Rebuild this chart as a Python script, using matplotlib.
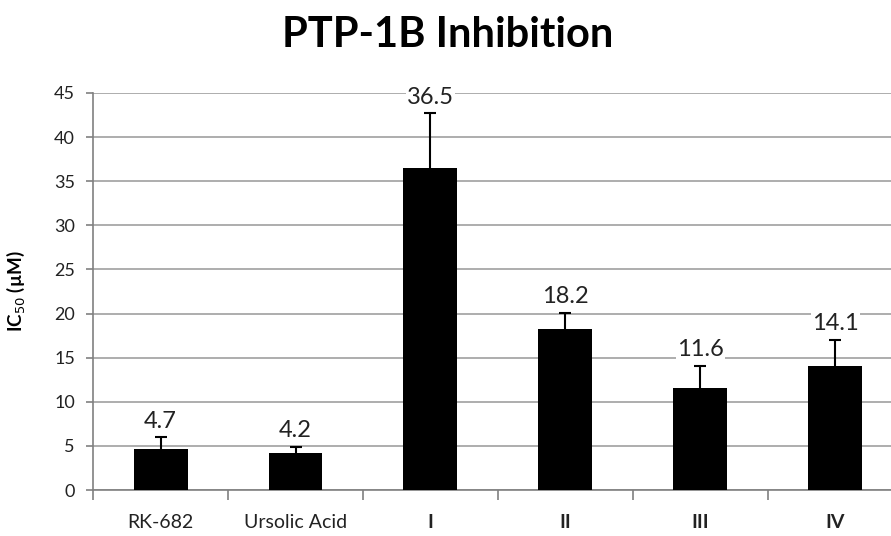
import matplotlib.pyplot as plt
import numpy as np

plt.rcParams['font.family'] = ['Lato', 'DejaVu Sans']

# data
compounds = ["RK-682", "Ursolic Acid", "I", "II", "III", "IV"]
ic50 = [4.7, 4.2, 36.5, 18.2, 11.6, 14.1]
err_up = [1.3, 0.7, 6.2, 1.9, 2.5, 2.9]
bold_labels = [False, False, True, True, True, True]

fig = plt.figure(figsize=(8.91, 5.36), dpi=100)
ax = fig.add_axes([0.1044, 0.0858, 0.909, 0.7407])

x = np.arange(len(compounds))
ax.bar(x, ic50, width=0.4, color="black", zorder=3)
_, caps, _ = ax.errorbar(x, ic50, yerr=[np.zeros(len(ic50)), err_up], fmt="none",
                         ecolor="black", elinewidth=1.5, capsize=4, capthick=1.5, zorder=4)
caps[0].set_visible(False)  # only the upper cap, like Excel's "plus" bars

# value labels above the error bars
for xi, v, e in zip(x, ic50, err_up):
    ax.annotate(f"{v}", (xi, v + e), xytext=(0, 4), textcoords="offset points",
                ha="center", va="bottom", fontsize=17, color="#222222",
                bbox=dict(facecolor="white", edgecolor="none", pad=1.0), zorder=5)

ax.set_ylim(0, 45)
ax.set_xlim(-0.5, len(compounds) - 0.5)
ax.set_yticks(np.arange(0, 46, 5))
ax.yaxis.grid(True, color="#a0a0a0", linewidth=1.2, zorder=0)
ax.tick_params(axis="y", labelsize=13, colors="#808080", labelcolor="#222222",
               length=5, width=1.2, pad=8)

ax.set_xticks(x)
ax.set_xticklabels(compounds)
for lbl, b in zip(ax.get_xticklabels(), bold_labels):
    lbl.set_fontsize(14)
    lbl.set_color("#222222")
    if b:
        lbl.set_fontweight("bold")
ax.tick_params(axis="x", which="major", length=0, pad=17)
ax.set_xticks(np.arange(-0.5, len(compounds)), minor=True)
ax.tick_params(axis="x", which="minor", length=7, width=1.2, colors="#808080")

for side in ["top", "right"]:
    ax.spines[side].set_visible(False)
for side in ["left", "bottom"]:
    ax.spines[side].set_color("#808080")
    ax.spines[side].set_linewidth(1.2)

ax.set_ylabel("IC$_{50}$ (µM)", fontsize=13.5, fontweight="bold", color="black")
ax.yaxis.set_label_coords(-0.081, 0.5)

fig.suptitle("PTP-1B Inhibition", fontsize=30, fontweight="bold", x=0.502, y=0.97)

fig.savefig("out.png", dpi=100)
